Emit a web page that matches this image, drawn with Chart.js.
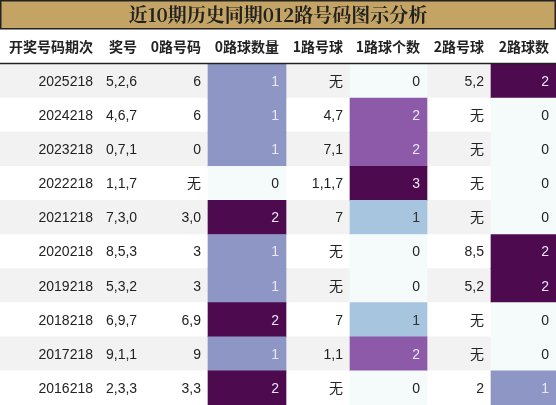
<!DOCTYPE html>
<html><head><meta charset="utf-8">
<script src="https://cdn.jsdelivr.net/npm/chart.js@4"></script>
<style>html,body{margin:0;padding:0;background:#fff}#w{width:556px;height:405px}</style>
</head><body><div id="w"><canvas id="c"></canvas></div>
<script>
const title = '近10期历史同期012路号码图示分析';
const headers = ['开奖号码期次','奖号','0路号码','0路球数量','1路号球','1路球个数','2路号球','2路球数'];
const periods = ['2025218','2024218','2023218','2022218','2021218','2020218','2019218','2018218','2017218','2016218'];
const prizes = ['5,2,6','4,6,7','0,7,1','1,1,7','7,3,0','8,5,3','5,3,2','6,9,7','9,1,1','2,3,3'];
const road0 = ['6','6','0','无','3,0','3','3','6,9','9','3,3'];
const count0 = [1,1,1,0,2,1,1,2,1,2];
const road1 = ['无','4,7','7,1','1,1,7','7','无','无','7','1,1','无'];
const count1 = [0,2,2,3,1,0,0,1,2,0];
const road2 = ['5,2','无','无','无','无','8,5','5,2','无','无','2'];
const count2 = [2,0,0,0,0,2,2,0,0,1];

const edges = [0,100,145,208,286,350,427,491,556];
const pal0 = {0:'#f5fbfb',1:'#8e96c6',2:'#4d0a4e'};
const pal1 = {0:'#f5fbfb',1:'#a8c5e0',2:'#8c5aa8',3:'#4d0a4e'};
const pal2 = {0:'#f5fbfb',1:'#8e96c6',2:'#4d0a4e'};

function cellSet(col, colors){
  return {data: periods.map(p=>({x:[edges[col],edges[col+1]],y:p})), backgroundColor: colors, grouped:false, barPercentage:1, categoryPercentage:1, borderWidth:0, borderSkipped:false};
}
const datasets = [
  cellSet(3, count0.map(v=>pal0[v])),
  cellSet(5, count1.map(v=>pal1[v])),
  cellSet(7, count2.map(v=>pal2[v])),
  {data: periods.map(p=>({x:[edges[0],edges[8]],y:p})), backgroundColor: periods.map((p,i)=>i%2===0?'#f2f2f2':'#ffffff'), grouped:false, barPercentage:1, categoryPercentage:1, borderWidth:0},
];
const cols = [periods, prizes, road0, count0, road1, count1, road2, count2];
const textPlugin = {
  id:'tbl',
  beforeDraw(chart){
    const ctx = chart.ctx, x = chart.scales.x;
    ctx.save();
    ctx.fillStyle='#c4a464'; ctx.fillRect(0,0,556,29);
    ctx.strokeStyle='#222'; ctx.lineWidth=1.5; ctx.strokeRect(0.75,0.75,554.5,28);
    ctx.fillStyle='#222'; ctx.font='bold 19px "Noto Serif CJK SC","Noto Sans CJK SC",serif';
    ctx.textAlign='center'; ctx.textBaseline='middle';
    ctx.fillText(title, 278, 15);
    ctx.font='bold 14px "Noto Sans CJK SC",sans-serif';
    headers.forEach((h,i)=>{
      if(i===1){ctx.textAlign='left'; ctx.fillText(h, x.getPixelForValue(edges[i])+9, 47);}
      else {ctx.textAlign='right'; ctx.fillText(h, x.getPixelForValue(edges[i+1])-7, 47);}
    });
    ctx.restore();
  },
  afterDraw(chart){
    const ctx = chart.ctx, x = chart.scales.x, y = chart.scales.y;
    ctx.save();
    ctx.strokeStyle='#222'; ctx.lineWidth=1.5;
    ctx.beginPath(); ctx.moveTo(0,chart.chartArea.top-0.5); ctx.lineTo(556,chart.chartArea.top-0.5); ctx.stroke();
    ctx.font='14px "Liberation Sans","Noto Sans CJK SC",sans-serif'; ctx.textBaseline='middle';
    periods.forEach((p,r)=>{
      const yy = y.getPixelForValue(r)+1;
      cols.forEach((c,i)=>{
        const v = c[r];
        let color = '#222';
        if(i===3||i===7){ if(v===1||v===2) color='#e8e8f4'; }
        if(i===5){ if(v===2||v===3) color='#e8e8f4'; else if(v===1) color='#333'; }
        ctx.fillStyle=color;
        if(i===1){ctx.textAlign='left'; ctx.fillText(String(v), x.getPixelForValue(edges[i])+6, yy);}
        else {ctx.textAlign='right'; ctx.fillText(String(v), x.getPixelForValue(edges[i+1])-7, yy);}
      });
    });
    ctx.restore();
  }
};
new Chart(document.getElementById('c'), {
  type:'bar',
  data:{labels:periods, datasets},
  options:{indexAxis:'y', responsive:true, maintainAspectRatio:false, animation:false,
    layout:{padding:{top:64,left:0,right:0,bottom:0}},
    plugins:{legend:{display:false}, tooltip:{enabled:false}},
    scales:{x:{type:'linear',min:0,max:556,display:false}, y:{display:false}}},
  plugins:[textPlugin]
});
</script></body></html>
